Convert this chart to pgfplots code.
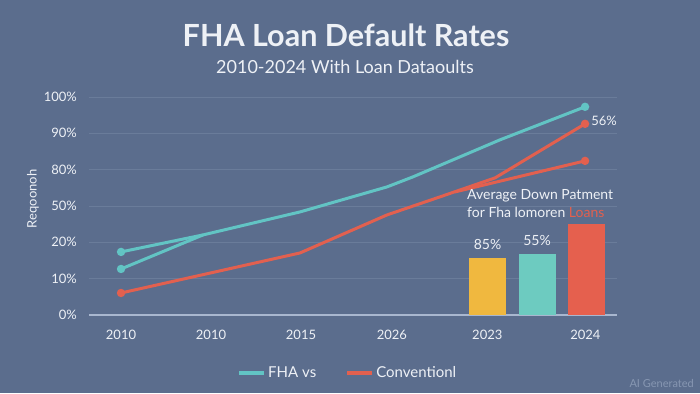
\documentclass[border=0pt]{standalone}
\usepackage{fontspec}
\setmainfont{Lato}
\usepackage{pgfplots}
\pgfplotsset{compat=1.18}
\definecolor{bg}{HTML}{5B6D8D}
\definecolor{txt}{HTML}{EEF1F6}
\definecolor{gridc}{HTML}{6A7C9A}
\definecolor{axisc}{HTML}{A9B7CF}
\definecolor{tealc}{HTML}{62C4C4}
\definecolor{redc}{HTML}{E2604F}
\definecolor{yelc}{HTML}{F0B83F}
\definecolor{tealbar}{HTML}{6DCBC0}
\definecolor{redbar}{HTML}{E5604E}
\definecolor{faint}{HTML}{8797B2}
\begin{document}
\begin{tikzpicture}[x=1pt,y=1pt]
\fill[bg] (0,0) rectangle (700,393);
\node[text=txt, font=\bfseries\fontsize{30.5}{32}\selectfont] at (346,358) {FHA Loan Default Rates};
\node[text=txt, font=\fontsize{18}{20}\selectfont] at (345,326) {2010-2024 With Loan Dataoults};
\node[rotate=90, text=txt, font=\fontsize{13}{15}\selectfont] at (33,194) {Reqoonoh};
\begin{axis}[
  at={(89pt,78pt)}, anchor=south west,
  width=528pt, height=218pt, scale only axis,
  xmin=-0.356, xmax=5.511, ymin=0, ymax=6,
  axis x line*=bottom, axis y line*=left,
  y axis line style={draw=none},
  x axis line style={draw=axisc, line width=2pt, -},
  major tick length=0pt,
  ymajorgrids, grid style={gridc, line width=0.8pt},
  xtick={0,1,2,3.01,4.07,5.16},
  xticklabels={2010,2010,2015,2026,2023,2024},
  ytick={0,1,2,3,4,5,6},
  yticklabels={0\%,10\%,20\%,50\%,80\%,90\%,100\%},
  ticklabel style={text=txt, font=\fontsize{13}{15}\selectfont},
  yticklabel style={anchor=east, inner sep=0pt, xshift=-12pt},
  xticklabel style={anchor=north, inner sep=0pt, yshift=-15pt},
  /pgf/number format/assume math mode=true,
  clip=false,
  legend columns=2,
  legend style={at={(0.49,-0.266)}, anchor=center, draw=none, fill=none,
    text=txt, font=\fontsize{15}{17}\selectfont,
    /tikz/every even column/.append style={column sep=27pt}},
]
\addplot[ybar, bar width=37pt, bar shift=0pt, fill=yelc, draw=none, forget plot] coordinates {(4.072,1.569)};
\addplot[ybar, bar width=37pt, bar shift=0pt, fill=tealbar, draw=none, forget plot] coordinates {(4.622,1.679)};
\addplot[ybar, bar width=37pt, bar shift=0pt, fill=redbar, draw=none, forget plot] coordinates {(5.167,2.505)};

\addplot[tealc, line width=3pt, mark=*, mark size=2.6pt, mark indices={1,7}, forget plot]
  coordinates {(0,1.736)(0.911,2.204)(1.989,2.837)(2.956,3.526)(3.244,3.802)(4.211,4.821)(5.156,5.730)};
\addplot[tealc, line width=3pt, mark=*, mark size=2.6pt, mark indices={1}, forget plot]
  coordinates {(0,1.267)(0.911,2.204)};
\addplot[redc, line width=3pt, mark=*, mark size=2.6pt, mark indices={1,6}, forget plot]
  coordinates {(0,0.606)(1.989,1.708)(2.956,2.755)(3.544,3.251)(4.156,3.774)(5.156,5.262)};
\addplot[redc, line width=3pt, mark=*, mark size=2.6pt, mark indices={2}, forget plot]
  coordinates {(3.711,3.388)(5.156,4.242)};

\addlegendimage{legend image code/.code={\draw[tealc, line width=4pt] (0pt,0pt) -- (25pt,0pt);}}
\addlegendentry{FHA vs}
\addlegendimage{legend image code/.code={\draw[redc, line width=4pt] (0pt,0pt) -- (25pt,0pt);}}
\addlegendentry{Conventionl}

\node[text=txt, font=\fontsize{14}{16}\selectfont, anchor=south, inner sep=0pt] at (axis cs:4.072,1.569) [yshift=8pt] {85\%};
\node[text=txt, font=\fontsize{14}{16}\selectfont, anchor=south, inner sep=0pt] at (axis cs:4.622,1.679) [yshift=8pt] {55\%};
\node[text=txt, font=\fontsize{13}{15}\selectfont, anchor=west, inner sep=0pt] at (axis cs:5.156,5.262) [xshift=6pt, yshift=3pt] {56\%};
\end{axis}
\node[text=txt, font=\fontsize{14}{16}\selectfont, anchor=west, inner sep=0pt] at (467,197) {Average Down Patment};
\node[text=txt, font=\fontsize{14}{16}\selectfont, anchor=west, inner sep=0pt] at (467,181) {for Fha lomoren {\color{redc}Loans}};
\node[text=faint, font=\fontsize{11}{13}\selectfont, anchor=east, inner sep=0pt] at (694,10) {AI Generated};
\end{tikzpicture}
\end{document}
